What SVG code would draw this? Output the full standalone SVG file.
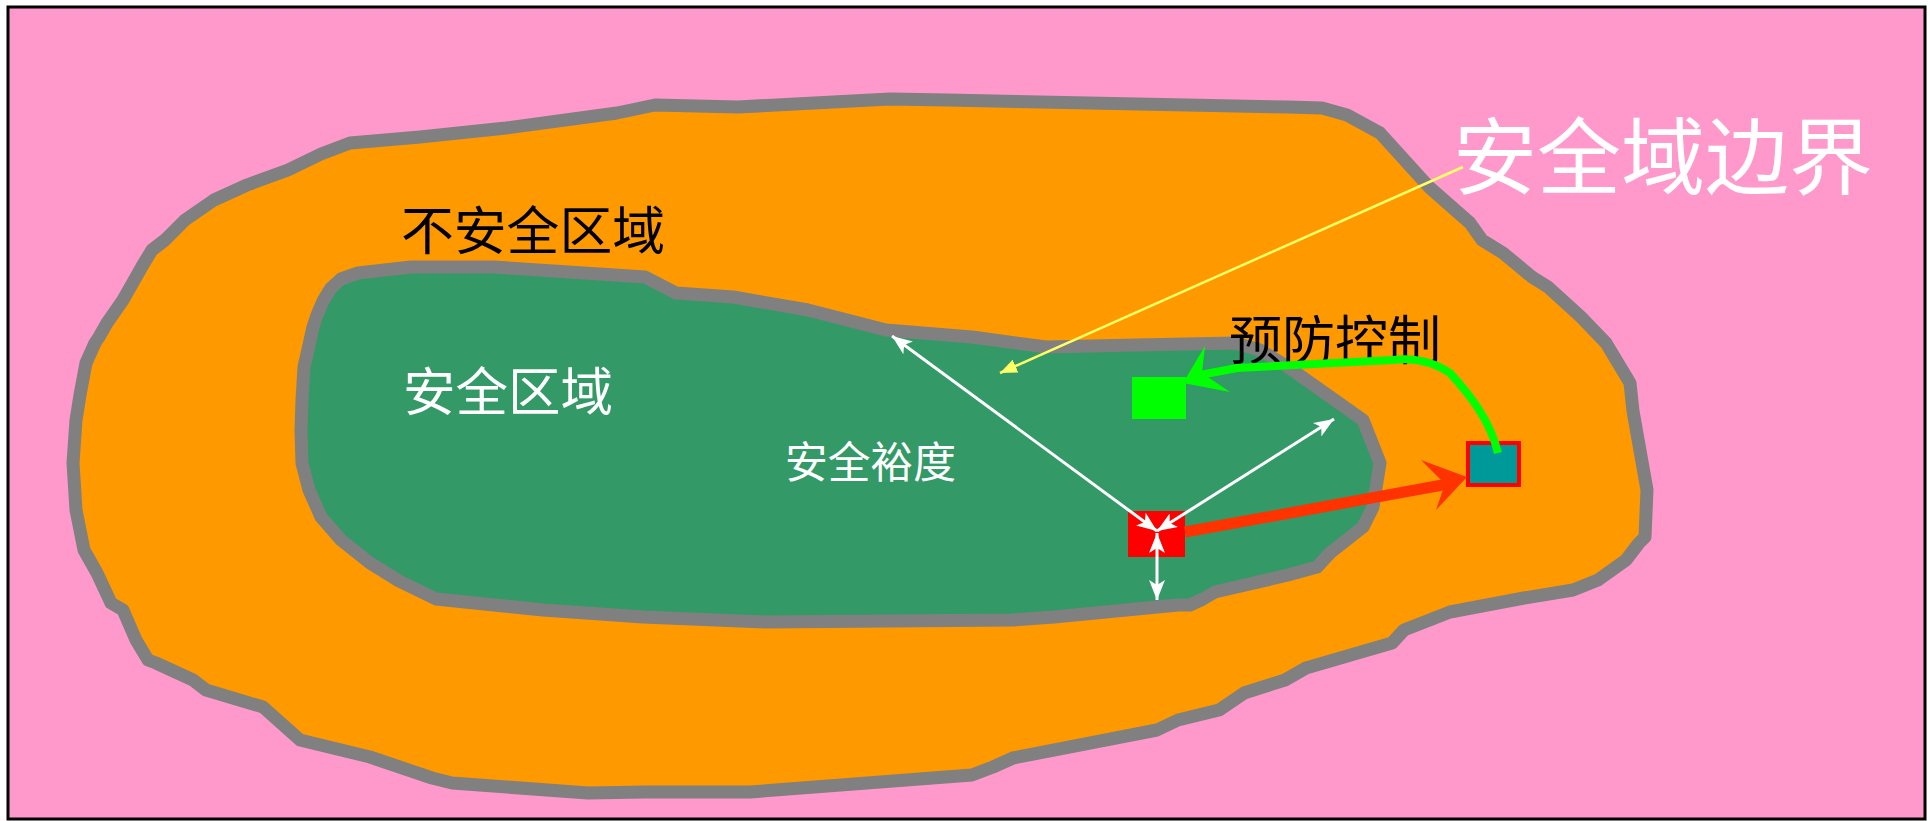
<svg xmlns="http://www.w3.org/2000/svg" width="1930" height="821" viewBox="0 0 1930 821">
  <style>
    .blob { stroke: #808080; stroke-width: 13; stroke-linejoin: round; }
    .lbl { font-family: "Noto Sans CJK SC", "Noto Sans", sans-serif; }
    .wline { stroke: #FFFFFF; stroke-width: 3; fill: none; }
  </style>
  <defs>
    <marker id="wa" markerUnits="userSpaceOnUse" markerWidth="22" markerHeight="16" refX="20" refY="8" orient="auto-start-reverse">
      <path d="M0,0 L20,8 L0,16 L5,8 Z" fill="#FFFFFF"/>
    </marker>
    <marker id="ya" markerUnits="userSpaceOnUse" markerWidth="18" markerHeight="14" refX="17" refY="7" orient="auto">
      <path d="M0,0 L17,7 L0,14 Z" fill="#FFFF66"/>
    </marker>
  </defs>
  <rect x="0" y="0" width="1930" height="821" fill="#FFFFFF"/>
  <rect id="frame" x="8" y="7" width="1917" height="812" fill="#FF99CC" stroke="#000000" stroke-width="3"/>

  <g id="unsafe-region">
    <polygon class="blob" fill="#FF9900" points="350,143 420,137 506,128 617,113 655,105 738,107 890,99 947,100 1288,107 1322,108 1347,115 1380,133 1429,187 1470,223 1482,240 1503,253 1532,277 1548,287 1581,317 1606,343 1630,383 1633,411 1647,490 1645,537 1639,543 1626,560 1598,580 1573,590 1524,598 1450,612 1404,630 1392,643 1306,668 1285,680 1244,693 1219,710 1178,720 1157,730 1013,758 993,767 972,775 750,792 645,792 588,793 452,783 432,778 370,757 300,740 263,707 206,690 193,680 156,663 148,660 136,640 123,610 111,603 97,573 84,550 76,510 73,463 76,420 80,395 86,363 95,343 99,337 107,323 123,300 144,263 152,250 165,240 185,220 214,200 247,185 288,170 321,154"/>
  </g>
  <g id="safe-region">
    <polygon class="blob" fill="#339966" points="358,273 411,267 494,267 645,277 676,293 733,297 808,310 886,330 972,337 1046,347 1137,345 1235,343 1260,350 1288,367 1363,420 1380,463 1373,507 1363,527 1330,553 1317,567 1288,575 1215,592 1203,599 1190,605 1178,605 1054,617 1013,620 766,622 643,617 543,610 436,599 399,581 370,563 341,540 321,517 309,490 302,463 301,430 302,400 304,367 309,345 313,327 317,315 323,301 331,288 341,279"/>
  </g>

  <g id="label-unsafe"><text class="lbl" x="401" y="250" font-size="52" fill="#000000" textLength="264" lengthAdjust="spacingAndGlyphs">不安全区域</text></g>
  <g id="label-safe"><text class="lbl" x="403" y="411" font-size="52" fill="#FFFFFF" textLength="210" lengthAdjust="spacingAndGlyphs">安全区域</text></g>
  <g id="label-margin"><text class="lbl" x="785" y="478" font-size="43" fill="#FFFFFF" textLength="171" lengthAdjust="spacingAndGlyphs">安全裕度</text></g>
  <g id="label-control"><text class="lbl" x="1229" y="360" font-size="53" fill="#000000" textLength="212" lengthAdjust="spacingAndGlyphs">预防控制</text></g>
  <g id="label-boundary"><text class="lbl" x="1453" y="188" font-size="84" fill="#FFFFFF" textLength="420" lengthAdjust="spacingAndGlyphs">安全域边界</text></g>

  <g id="node-green"><rect x="1132" y="377" width="54" height="42" fill="#00FF00"/></g>
  <g id="node-red"><rect x="1128" y="511" width="57" height="46" fill="#FF0000"/></g>
  <g id="node-teal"><rect x="1468" y="443" width="51" height="42" fill="#009999" stroke="#FF0000" stroke-width="4"/></g>

  <g id="connectors">
    <line x1="1463" y1="167" x2="1000" y2="373" stroke="#FFFF66" stroke-width="2.5" marker-end="url(#ya)"/>
    <line class="wline" x1="1157" y1="531" x2="892" y2="336" marker-start="url(#wa)" marker-end="url(#wa)"/>
    <line class="wline" x1="1157" y1="531" x2="1334" y2="419" marker-start="url(#wa)" marker-end="url(#wa)"/>
    <line class="wline" x1="1157" y1="533" x2="1157" y2="600" marker-start="url(#wa)" marker-end="url(#wa)"/>
    <polyline points="1185,532 1317,508 1448,484" fill="none" stroke="#FF3300" stroke-width="11" stroke-linejoin="round"/>
    <polygon points="1467,477 1436,510 1445,484 1421,460" fill="#FF3300"/>
    <path d="M1498,453 C1490,420 1470,395 1450,373 C1430,360 1410,358 1393,360 L1237,368 L1200,375" fill="none" stroke="#00FF00" stroke-width="8" stroke-linejoin="round"/>
    <polygon points="1183,383 1205,346 1202,373 1230,392" fill="#00FF00"/>
  </g>
</svg>
